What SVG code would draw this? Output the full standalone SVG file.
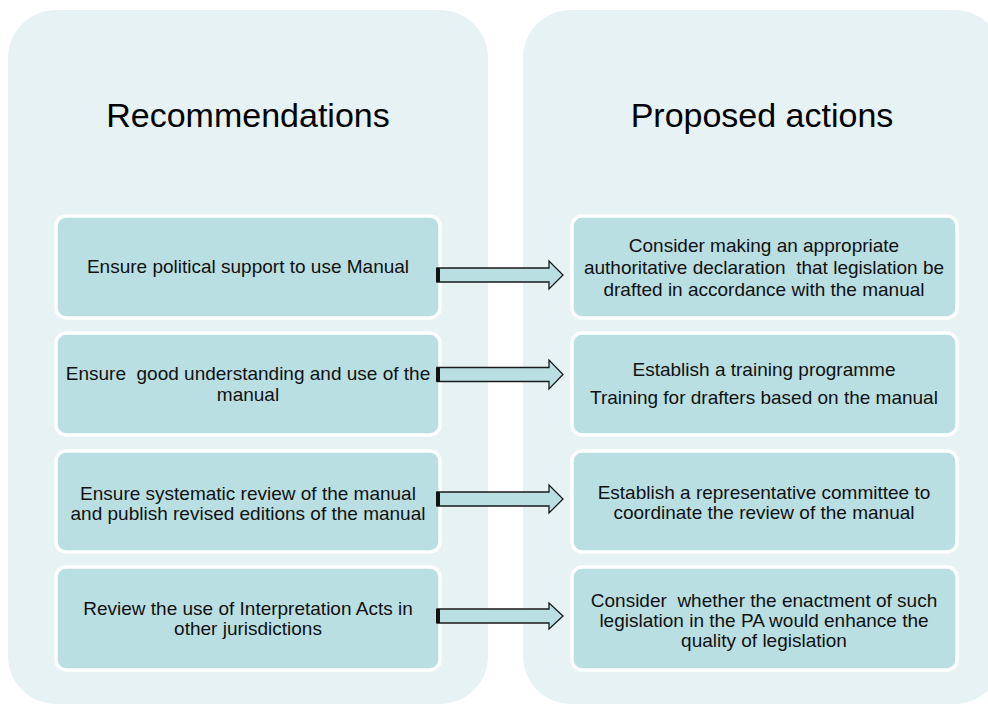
<svg xmlns="http://www.w3.org/2000/svg" width="988" height="706" viewBox="0 0 988 706">
<defs>
<style>
.panel{fill:#e6f2f4;}
.box{fill:#b9dfe3;stroke:#ffffff;stroke-width:3.5;}
.title{font-family:"Liberation Sans",Arial,sans-serif;font-size:34px;fill:#000;text-anchor:middle;}
.t{font-family:"Liberation Sans",Arial,sans-serif;font-size:19px;fill:#111;text-anchor:middle;white-space:pre;}
.arrow{fill:#b9dfe3;stroke:#1a1a1a;stroke-width:1.3;stroke-linejoin:miter;}
.cap{fill:#111;}
</style>
</defs>
<rect width="988" height="706" fill="#ffffff"/>
<g id="panel-recommendations">
<rect class="panel" x="8" y="10" width="480" height="694" rx="48" ry="48"/>
<text class="title" x="248" y="127">Recommendations</text>
</g>
<g id="panel-proposed-actions">
<rect class="panel" x="523" y="10" width="480" height="694" rx="48" ry="48"/>
<text class="title" x="762" y="127">Proposed actions</text>
</g>
<g id="rec1">
<rect class="box" x="56" y="216" width="384" height="102" rx="10" ry="10"/>
<text class="t" x="248" y="273">Ensure political support to use Manual</text>
</g>
<g id="rec2">
<rect class="box" x="56" y="333" width="384" height="102" rx="10" ry="10"/>
<text class="t" x="248" y="380" xml:space="preserve">Ensure  good understanding and use of the</text>
<text class="t" x="248" y="401">manual</text>
</g>
<g id="rec3">
<rect class="box" x="56" y="451" width="384" height="101" rx="10" ry="10"/>
<text class="t" x="248" y="500">Ensure systematic review of the manual</text>
<text class="t" x="248" y="520">and publish revised editions of the manual</text>
</g>
<g id="rec4">
<rect class="box" x="56" y="567" width="384" height="103" rx="10" ry="10"/>
<text class="t" x="248" y="615">Review the use of Interpretation Acts in</text>
<text class="t" x="248" y="635">other jurisdictions</text>
</g>
<g id="act1">
<rect class="box" x="572" y="216" width="385" height="102" rx="10" ry="10"/>
<text class="t" x="764" y="252">Consider making an appropriate</text>
<text class="t" x="764" y="274" xml:space="preserve">authoritative declaration  that legislation be</text>
<text class="t" x="764" y="296">drafted in accordance with the manual</text>
</g>
<g id="act2">
<rect class="box" x="572" y="333" width="385" height="102" rx="10" ry="10"/>
<text class="t" x="764" y="376">Establish a training programme</text>
<text class="t" x="764" y="404">Training for drafters based on the manual</text>
</g>
<g id="act3">
<rect class="box" x="572" y="451" width="385" height="101" rx="10" ry="10"/>
<text class="t" x="764" y="499">Establish a representative committee to</text>
<text class="t" x="764" y="519">coordinate the review of the manual</text>
</g>
<g id="act4">
<rect class="box" x="572" y="567" width="385" height="103" rx="10" ry="10"/>
<text class="t" x="764" y="607" xml:space="preserve">Consider  whether the enactment of such</text>
<text class="t" x="764" y="627">legislation in the PA would enhance the</text>
<text class="t" x="764" y="647">quality of legislation</text>
</g>
<g id="connectors">
<path class="arrow" d="M437 268 H549 V261 L563 275 L549 289 V282 H437 Z"/>
<rect class="cap" x="436" y="268" width="4" height="14"/>
<path class="arrow" d="M437 367.5 H549 V360 L563 374.5 L549 389 V381.5 H437 Z"/>
<rect class="cap" x="436" y="367.5" width="4" height="14"/>
<path class="arrow" d="M437 492 H549 V485 L563 499 L549 513 V506 H437 Z"/>
<rect class="cap" x="436" y="492" width="4" height="14"/>
<path class="arrow" d="M437 609 H549 V603 L563 616 L549 629 V623 H437 Z"/>
<rect class="cap" x="436" y="609" width="4" height="14"/>
</g>
</svg>
